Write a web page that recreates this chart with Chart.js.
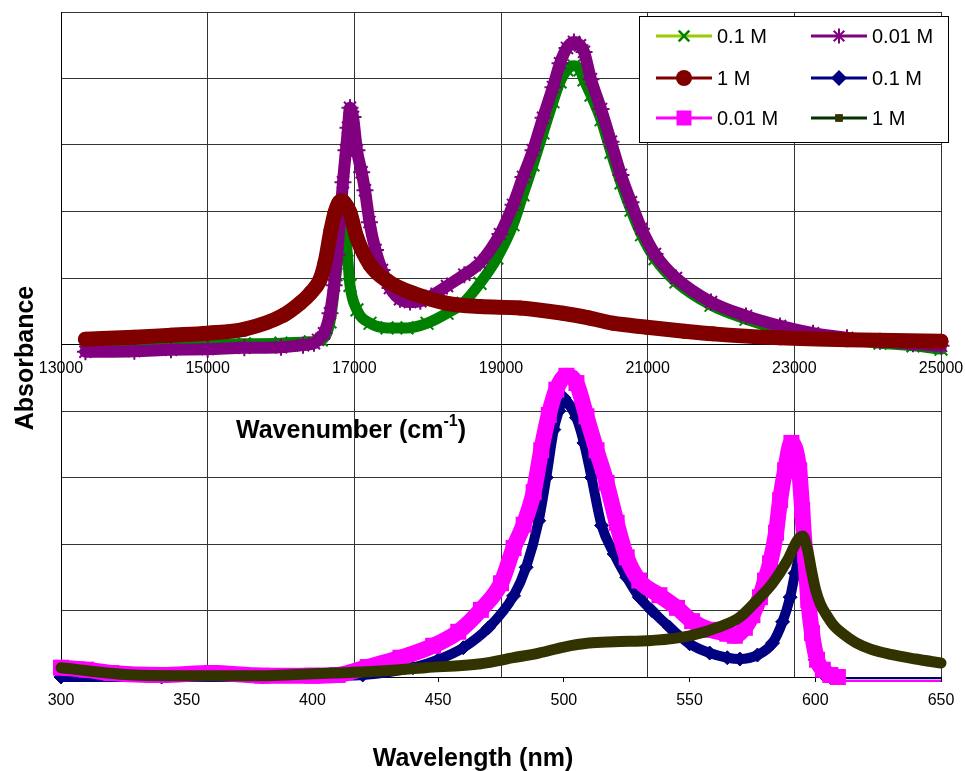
<!DOCTYPE html>
<html>
<head>
<meta charset="utf-8">
<title>Absorbance spectra</title>
<script src="https://cdn.jsdelivr.net/npm/chart.js@4.4.1/dist/chart.umd.min.js"></script>
<style>
  html, body { margin: 0; padding: 0; background: #fff; }
</style>
</head>
<body>
<canvas id="spectra" width="965" height="771"></canvas>
<script>
// axis ticks
const wavenumberTicks = [13000, 15000, 17000, 19000, 21000, 23000, 25000];
const wavelengthTicks = [300, 350, 400, 450, 500, 550, 600, 650];

// key labels, in dataset order
const seriesLabels = ['0.1 M', '0.01 M', '1 M', '0.1 M', '0.01 M', '1 M'];

// upper traces: absorbance vs wavenumber (cm-1)
const wnGreen = [13333, 14500, 15500, 16000, 16400, 16550, 16668, 16750, 16800, 16846, 16900, 16941,
  17036, 17214, 17446, 17718, 17991, 18264, 18482, 18714, 18945, 19164, 19300, 19436, 19573, 19709,
  19805, 19900, 19995, 20077, 20132, 20227, 20364, 20500, 20636, 20773, 20916, 21100, 21386, 21864,
  22341, 22805, 23255, 23718, 24168, 24618, 25000];
const absGreen = [-0.002, -0.001, 0.001, 0.002, 0.004, 0.007, 0.034, 0.105, 0.157, 0.184, 0.142, 0.089,
  0.052, 0.032, 0.025, 0.025, 0.032, 0.047, 0.062, 0.092, 0.130, 0.180, 0.225, 0.270, 0.318, 0.365,
  0.395, 0.413, 0.419, 0.413, 0.398, 0.375, 0.338, 0.289, 0.243, 0.202, 0.165, 0.129, 0.094, 0.059,
  0.038, 0.023, 0.013, 0.007, 0.002, -0.002, -0.007];

const wnPurple = [13333, 14000, 14500, 15000, 15500, 16000, 16300, 16450, 16505, 16587, 16668, 16723,
  16764, 16805, 16845, 16886, 16914, 16941, 16982, 17036, 17100, 17145, 17207, 17289, 17377, 17486,
  17623, 17759, 17900, 18050, 18264, 18500, 18714, 18986, 19164, 19300, 19436, 19573, 19709, 19805,
  19900, 19995, 20077, 20132, 20227, 20364, 20500, 20636, 20773, 20916, 21100, 21386, 21864, 22341,
  22805, 23255, 23718, 24168, 24618, 25000];
const absPurple = [-0.011, -0.010, -0.008, -0.007, -0.005, -0.004, -0.001, 0.002, 0.007, 0.017, 0.047, 0.089,
  0.135, 0.187, 0.244, 0.292, 0.326, 0.356, 0.342, 0.292, 0.259, 0.232, 0.184, 0.142, 0.112, 0.085,
  0.068, 0.064, 0.065, 0.073, 0.088, 0.105, 0.123, 0.166, 0.210, 0.252, 0.292, 0.341, 0.387, 0.423,
  0.446, 0.455, 0.450, 0.440, 0.399, 0.354, 0.305, 0.255, 0.214, 0.174, 0.136, 0.100, 0.064, 0.043,
  0.028, 0.017, 0.010, 0.005, 0.001, -0.002];

const wnRed = [13333, 14000, 14500, 15000, 15500, 16032, 16259, 16400, 16530, 16600, 16682, 16736,
  16790, 16832, 16900, 16941, 17036, 17214, 17459, 17800, 18264, 18714, 19259, 19846, 20200, 20527,
  20991, 21500, 21891, 22805, 23718, 25000];
const absRed = [0.008, 0.011, 0.014, 0.017, 0.023, 0.044, 0.062, 0.077, 0.097, 0.123, 0.172, 0.198,
  0.213, 0.216, 0.207, 0.198, 0.160, 0.120, 0.095, 0.077, 0.062, 0.057, 0.055, 0.047, 0.040, 0.032,
  0.026, 0.020, 0.016, 0.010, 0.007, 0.005];

// lower traces: absorbance vs wavelength (nm)
const nmNavy = [300, 340, 380, 410, 420, 440, 450, 460, 470, 480, 485, 490, 493, 496, 498, 500, 502,
  505, 508, 511, 515, 520, 525, 530, 535, 542, 550, 558, 565, 570, 577, 583, 587, 590, 592, 594, 596,
  598, 600, 603, 606, 610, 620, 650];
const absNavy = [0.000, 0.000, 0.000, 0.002, 0.003, 0.014, 0.026, 0.044, 0.074, 0.122, 0.165, 0.235,
  0.300, 0.372, 0.400, 0.420, 0.410, 0.390, 0.352, 0.300, 0.228, 0.185, 0.150, 0.120, 0.100, 0.075,
  0.050, 0.036, 0.029, 0.027, 0.033, 0.051, 0.083, 0.120, 0.156, 0.182, 0.150, 0.078, 0.026, 0.005,
  0.000, -0.002, -0.002, -0.002];

const nmMagenta = [300, 310, 320, 340, 360, 380, 400, 410, 422, 435, 448, 458, 467, 475, 480, 484, 488,
  491, 494, 497, 501, 505, 509, 513, 517, 521, 525, 530, 538, 545, 551, 558, 565, 568, 572, 575, 578,
  580, 582, 584.4, 586, 588, 590.5, 593.6, 594.8, 596, 597.2, 598.7, 600.7, 603, 606, 609, 612, 620,
  635, 650];
const absMagenta = [0.014, 0.011, 0.006, 0.003, 0.006, 0.002, 0.002, 0.003, 0.015, 0.029, 0.047, 0.068,
  0.101, 0.141, 0.194, 0.229, 0.278, 0.341, 0.394, 0.432, 0.453, 0.442, 0.392, 0.341, 0.292, 0.232,
  0.180, 0.145, 0.123, 0.104, 0.084, 0.071, 0.065, 0.062, 0.074, 0.093, 0.120, 0.145, 0.171, 0.217,
  0.266, 0.311, 0.352, 0.311, 0.251, 0.183, 0.116, 0.066, 0.026, 0.011, 0.003, 0.000, -0.006, -0.006,
  -0.006, -0.006];

const nmOlive = [300, 329, 350, 382, 400, 422, 445, 467, 480, 490, 500, 510, 520, 535, 550, 563, 570,
  577, 583, 589, 593, 595, 597, 598.5, 600, 602, 605, 607, 611, 616, 622, 630, 640, 650];
const absOlive = [0.014, 0.003, 0.002, 0.002, 0.005, 0.008, 0.014, 0.020, 0.029, 0.036, 0.045, 0.051,
  0.053, 0.055, 0.062, 0.077, 0.090, 0.116, 0.141, 0.176, 0.206, 0.212, 0.190, 0.160, 0.133, 0.110,
  0.090, 0.079, 0.065, 0.052, 0.042, 0.034, 0.027, 0.021];

const FONT = "'Liberation Sans', Arial, Helvetica, sans-serif";

const toPoints = (xs, ys) => xs.map((x, i) => ({ x, y: ys[i] }));

// below the baseline only the thin connecting line is kept, no markers
const belowBase = ctx => ctx.parsed && ctx.parsed.y < 0;
const thinTail = ctx => (ctx.p0.parsed.y < 0 || ctx.p1.parsed.y < 0) ? 2 : undefined;

const common = {
  cubicInterpolationMode: 'monotone',
  borderJoinStyle: 'round',
  borderCapStyle: 'round',
  fill: false,
  clip: false
};

const datasets = [
  { ...common, label: seriesLabels[0], data: toPoints(wnGreen, absGreen), xAxisID: 'xTop', yAxisID: 'yTop',
    borderColor: '#008000', borderWidth: 11, pointStyle: 'crossRot', pointRadius: 9, pointBorderWidth: 2,
    pointBorderColor: '#008000', pointBackgroundColor: '#008000',
    keyLine: '#99CC00', keyRadius: 7.5, keyBorder: 2.5, order: 5 },
  { ...common, label: seriesLabels[1], data: toPoints(wnPurple, absPurple), xAxisID: 'xTop', yAxisID: 'yTop',
    borderColor: '#800080', borderWidth: 12, pointStyle: 'star', pointRadius: 8.5, pointBorderWidth: 2,
    pointBorderColor: '#800080', pointBackgroundColor: '#800080',
    keyLine: '#800080', keyRadius: 7.5, keyBorder: 2, order: 4 },
  { ...common, label: seriesLabels[2], data: toPoints(wnRed, absRed), xAxisID: 'xTop', yAxisID: 'yTop',
    borderColor: '#800000', borderWidth: 15, pointStyle: 'circle', pointRadius: 7.5, pointBorderWidth: 0,
    pointBorderColor: '#800000', pointBackgroundColor: '#800000',
    keyLine: '#800000', keyRadius: 8, keyBorder: 0, order: 3 },
  { ...common, label: seriesLabels[3], data: toPoints(nmNavy, absNavy), xAxisID: 'x', yAxisID: 'y',
    borderColor: '#000080', borderWidth: 10, pointStyle: 'rectRot', pointBorderWidth: 1,
    pointRadius: ctx => belowBase(ctx) ? 0 : 7, segment: { borderWidth: thinTail },
    pointBorderColor: '#000080', pointBackgroundColor: '#000080',
    keyLine: '#000080', keyRadius: 8, keyBorder: 0, order: 2 },
  { ...common, label: seriesLabels[4], data: toPoints(nmMagenta, absMagenta), xAxisID: 'x', yAxisID: 'y',
    borderColor: '#FF00FF', borderWidth: 16, borderCapStyle: 'butt', pointStyle: 'rect', pointBorderWidth: 0,
    pointRadius: ctx => belowBase(ctx) ? 0 : 11.3, segment: { borderWidth: thinTail },
    pointBorderColor: '#FF00FF', pointBackgroundColor: '#FF00FF',
    keyLine: '#FF00FF', keyRadius: 10.6, keyBorder: 0, order: 1 },
  { ...common, label: seriesLabels[5], data: toPoints(nmOlive, absOlive), xAxisID: 'x', yAxisID: 'y',
    borderColor: '#333300', borderWidth: 11, pointStyle: 'rect', pointRadius: 4, pointBorderWidth: 0,
    pointBorderColor: '#333300', pointBackgroundColor: '#333300',
    keyLine: '#003300', keyRadius: 5.5, keyBorder: 0, order: 0 }
];

// axis titles and the boxed key are painted on top of the plot
const titlesAndKey = {
  id: 'titlesAndKey',
  afterDraw(chart) {
    const { ctx } = chart;
    ctx.save();
    ctx.fillStyle = '#000';
    ctx.textBaseline = 'alphabetic';
    ctx.font = `bold 25px ${FONT}`;

    ctx.save();
    ctx.translate(33, 358);
    ctx.rotate(-Math.PI / 2);
    ctx.textAlign = 'center';
    ctx.fillText('Absorbance', 0, 0);
    ctx.restore();

    // wavenumber title with raised exponent
    ctx.textAlign = 'left';
    let tx = 236;
    const base = 438;
    ctx.fillText('Wavenumber (cm', tx, base);
    tx += ctx.measureText('Wavenumber (cm').width;
    ctx.font = `bold 16px ${FONT}`;
    ctx.fillText('-1', tx, base - 12);
    tx += ctx.measureText('-1').width;
    ctx.font = `bold 25px ${FONT}`;
    ctx.fillText(')', tx, base);

    ctx.textAlign = 'center';
    ctx.fillText('Wavelength (nm)', 473, 766);

    // key
    const bx = 639, by = 16, bw = 309, bh = 126;
    ctx.fillStyle = '#fff';
    ctx.fillRect(bx, by, bw, bh);
    ctx.strokeStyle = '#000';
    ctx.lineWidth = 1;
    ctx.strokeRect(bx + 0.5, by + 0.5, bw, bh);

    const cols = [656, 811];
    const rows = [36, 78, 118];
    chart.data.datasets.forEach((ds, i) => {
      const lx = cols[i % 2];
      const ly = rows[Math.floor(i / 2)];
      ctx.strokeStyle = ds.keyLine;
      ctx.lineWidth = 3;
      ctx.lineCap = 'butt';
      ctx.beginPath();
      ctx.moveTo(lx, ly);
      ctx.lineTo(lx + 56, ly);
      ctx.stroke();

      ctx.fillStyle = ds.pointBackgroundColor;
      ctx.strokeStyle = ds.pointBorderColor;
      ctx.lineWidth = ds.keyBorder;
      Chart.helpers.drawPoint(ctx, {
        pointStyle: ds.pointStyle, radius: ds.keyRadius, rotation: 0, borderWidth: ds.keyBorder
      }, lx + 28, ly);

      ctx.fillStyle = '#000';
      ctx.font = `20px ${FONT}`;
      ctx.textAlign = 'left';
      ctx.textBaseline = 'middle';
      ctx.fillText(ds.label, lx + 61, ly + 1);
    });
    ctx.restore();
  }
};

const tickFont = { family: FONT, size: 16 };
const gridColor = '#333';

// edge labels may overhang the plot; the outer padding already leaves room for them
const noLabelPadding = s => { s.paddingLeft = 0; s.paddingRight = 0; };

new Chart(document.getElementById('spectra'), {
  type: 'line',
  data: { datasets },
  plugins: [titlesAndKey],
  options: {
    responsive: false,
    animation: false,
    events: [],
    layout: { padding: { top: 12, right: 24, left: 0, bottom: 0 } },
    plugins: { legend: { display: false }, tooltip: { enabled: false } },
    scales: {
      x: {
        type: 'linear',
        position: 'bottom',
        min: wavelengthTicks[0],
        max: wavelengthTicks[wavelengthTicks.length - 1],
        afterBuildTicks: s => { s.ticks = wavelengthTicks.map(value => ({ value })); },
        afterFit: s => { s.height = 94; noLabelPadding(s); },
        grid: { drawOnChartArea: false, drawTicks: true, tickLength: 5, color: '#000' },
        border: { color: '#000', width: 1 },
        ticks: { padding: 9, color: '#000', font: tickFont, maxRotation: 0, autoSkip: false,
                 callback: v => String(v) }
      },
      xTop: {
        type: 'linear',
        position: { y: 0.5 },
        min: wavenumberTicks[0],
        max: wavenumberTicks[wavenumberTicks.length - 1],
        afterBuildTicks: s => { s.ticks = wavenumberTicks.map(value => ({ value })); },
        afterFit: noLabelPadding,
        grid: { color: gridColor, tickLength: 5 },
        border: { color: '#000', width: 1 },
        ticks: { padding: 9, color: '#000', font: tickFont, maxRotation: 0, autoSkip: false,
                 callback: v => String(v) }
      },
      y: {
        type: 'linear',
        position: 'left',
        min: 0,
        max: 1,
        afterFit: s => { s.width = 61; },
        ticks: { display: false, stepSize: 0.1 },
        grid: { color: gridColor, drawTicks: false },
        border: { color: '#000', width: 1 }
      },
      yTop: {
        type: 'linear',
        display: false,
        min: -0.5,
        max: 0.5
      }
    }
  }
});
</script>
</body>
</html>
